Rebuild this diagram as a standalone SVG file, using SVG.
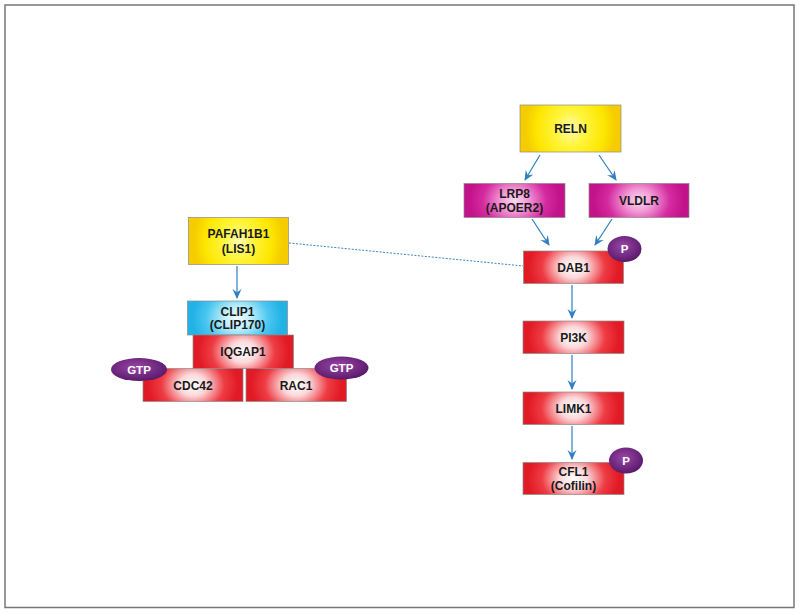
<svg xmlns="http://www.w3.org/2000/svg" width="800" height="614" viewBox="0 0 800 614">
<defs>
<radialGradient id="gRed" cx="0.5" cy="0.5" r="0.5" gradientTransform="translate(0.5 0.5) scale(0.9 2.2) translate(-0.5 -0.5)"><stop offset="0" stop-color="#ffffff"/><stop offset="0.3" stop-color="#fbd8da"/><stop offset="0.7" stop-color="#ee3c44"/><stop offset="1" stop-color="#e11b25"/></radialGradient>
<radialGradient id="gYel" cx="0.5" cy="0.5" r="0.5" gradientTransform="translate(0.5 0.5) scale(0.9 2.2) translate(-0.5 -0.5)"><stop offset="0" stop-color="#fffbb0"/><stop offset="0.35" stop-color="#fff43a"/><stop offset="0.75" stop-color="#fde600"/><stop offset="1" stop-color="#f5cc00"/></radialGradient>
<radialGradient id="gMag" cx="0.5" cy="0.5" r="0.5" gradientTransform="translate(0.5 0.5) scale(0.9 2.2) translate(-0.5 -0.5)"><stop offset="0" stop-color="#fbd6ef"/><stop offset="0.3" stop-color="#f29ad6"/><stop offset="0.7" stop-color="#d42aa0"/><stop offset="1" stop-color="#c3138a"/></radialGradient>
<radialGradient id="gCyan" cx="0.5" cy="0.5" r="0.5" gradientTransform="translate(0.5 0.5) scale(0.9 2.2) translate(-0.5 -0.5)"><stop offset="0" stop-color="#f0fcff"/><stop offset="0.3" stop-color="#bdeefc"/><stop offset="0.7" stop-color="#4ac6f0"/><stop offset="1" stop-color="#22b2e6"/></radialGradient>
<radialGradient id="gPur" cx="0.45" cy="0.4" r="0.6"><stop offset="0" stop-color="#9a46a6"/><stop offset="1" stop-color="#5a1a6c"/></radialGradient>
<marker id="arr" viewBox="0 0 10 10" refX="9" refY="5" markerWidth="10" markerHeight="10" markerUnits="userSpaceOnUse" orient="auto">
<path d="M0,0.5 L10,5 L0,9.5 L3.5,5 Z" fill="#2f7fc1"/>
</marker>
</defs>
<style>
.box{stroke:#8a8a8a;stroke-width:0.7}
.red{fill:url(#gRed)}
.yel{fill:url(#gYel)}
.mag{fill:url(#gMag)}
.cyan{fill:url(#gCyan)}
.mod{fill:url(#gPur)}
.t{font-family:"Liberation Sans",Arial,sans-serif;font-weight:bold;font-size:12px;fill:#1a1a1a;text-anchor:middle}
.tm{font-family:"Liberation Sans",Arial,sans-serif;font-weight:bold;font-size:11.5px;fill:#ffffff;text-anchor:middle}
.arrow{stroke:#2f7fc1;stroke-width:1.2;fill:none;marker-end:url(#arr)}
.dash{stroke:#3a86c6;stroke-width:1;fill:none;stroke-dasharray:2 1.5}
</style>
<rect x="0" y="0" width="800" height="614" fill="#ffffff"/>
<rect x="5" y="5" width="789" height="602.5" fill="none" stroke="#777777" stroke-width="1.5"/>

<g id="connectors">
<line class="dash" x1="289" y1="243" x2="523" y2="266"/>
<line class="arrow" x1="540" y1="155" x2="525" y2="180"/>
<line class="arrow" x1="599" y1="155" x2="616" y2="180"/>
<line class="arrow" x1="532" y1="219" x2="549" y2="245"/>
<line class="arrow" x1="612" y1="219" x2="595" y2="245"/>
<line class="arrow" x1="572" y1="285" x2="572" y2="318"/>
<line class="arrow" x1="572" y1="355" x2="572" y2="389"/>
<line class="arrow" x1="572" y1="426" x2="572" y2="459"/>
<line class="arrow" x1="237" y1="266" x2="237" y2="298"/>
</g>

<g id="RELN">
<rect class="box yel" x="520" y="105" width="101" height="47"/>
<text class="t" x="570.5" y="133" font-size="13">RELN</text>
</g>
<g id="LRP8">
<rect class="box mag" x="464" y="183.5" width="101" height="34"/>
<text class="t" x="514.5" y="198">LRP8</text>
<text class="t" x="514.5" y="211.5">(APOER2)</text>
</g>
<g id="VLDLR">
<rect class="box mag" x="589" y="183.5" width="100" height="34"/>
<text class="t" x="639" y="205">VLDLR</text>
</g>
<g id="DAB1">
<rect class="box red" x="523.5" y="251" width="100" height="32.5"/>
<text class="t" x="573.5" y="271.5">DAB1</text>
<ellipse class="mod" cx="624.5" cy="249" rx="17" ry="13"/>
<text class="tm" x="624.5" y="253">P</text>
</g>
<g id="PI3K">
<rect class="box red" x="523" y="321" width="101" height="32.5"/>
<text class="t" x="573.5" y="341.5">PI3K</text>
</g>
<g id="LIMK1">
<rect class="box red" x="523" y="392" width="101" height="32.5"/>
<text class="t" x="573.5" y="412.5">LIMK1</text>
</g>
<g id="CFL1">
<rect class="box red" x="523" y="462.5" width="101" height="32"/>
<text class="t" x="573.5" y="476">CFL1</text>
<text class="t" x="573.5" y="489.5">(Cofilin)</text>
<ellipse class="mod" cx="626" cy="460.5" rx="17" ry="13"/>
<text class="tm" x="626" y="464.5">P</text>
</g>

<g id="PAFAH1B1">
<rect class="box yel" x="188.5" y="217.5" width="100" height="47"/>
<text class="t" x="238.5" y="238">PAFAH1B1</text>
<text class="t" x="238.5" y="252.5">(LIS1)</text>
</g>
<g id="CLIP1">
<rect class="box cyan" x="187.5" y="301" width="100" height="34"/>
<text class="t" x="237.5" y="315.5">CLIP1</text>
<text class="t" x="237.5" y="329">(CLIP170)</text>
</g>
<g id="IQGAP1">
<rect class="box red" x="193" y="335" width="100.5" height="33.5"/>
<text class="t" x="243" y="356">IQGAP1</text>
</g>
<g id="CDC42">
<rect class="box red" x="143" y="368.5" width="100" height="33"/>
<text class="t" x="193" y="389.5">CDC42</text>
<ellipse class="mod" cx="139" cy="369.5" rx="28" ry="11.5"/>
<text class="tm" x="139" y="373.5">GTP</text>
</g>
<g id="RAC1">
<rect class="box red" x="246" y="368.5" width="100.5" height="33"/>
<text class="t" x="296" y="389.5">RAC1</text>
<ellipse class="mod" cx="341.5" cy="368" rx="27" ry="11.5"/>
<text class="tm" x="341.5" y="372">GTP</text>
</g>
</svg>
